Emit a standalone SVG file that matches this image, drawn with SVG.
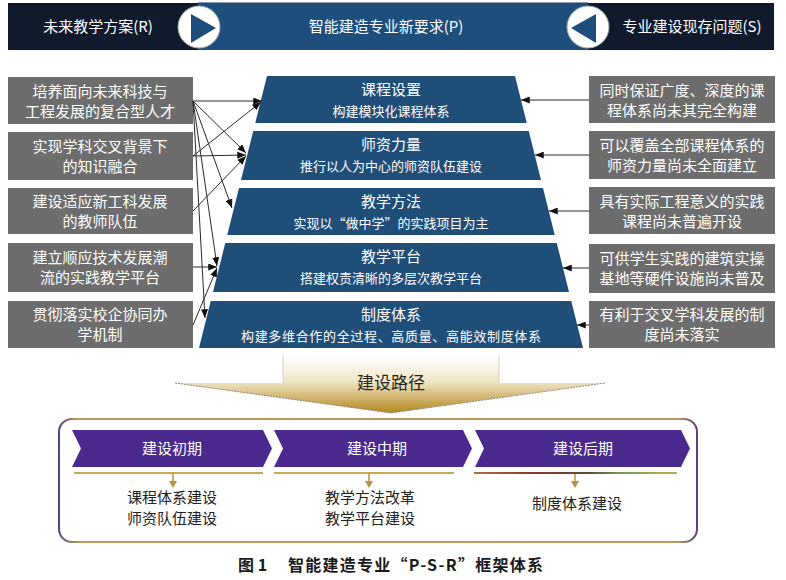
<svg xmlns="http://www.w3.org/2000/svg" width="786" height="580" viewBox="0 0 786 580">
<style>
text{font-family:"Noto Sans CJK SC","Noto Sans",sans-serif}
.hdr{fill:#fff;font-size:15px;text-anchor:middle}
.gbox{fill:#6d6d6d}
.gt{fill:#fff;font-size:15px;text-anchor:middle}
.trap{fill:#1f4e79}
.tt{fill:#fff;font-size:15px;text-anchor:middle}
.ts{fill:#fff;font-size:13px;text-anchor:middle}
.con{stroke:#2a2a2a;stroke-width:1;fill:none;marker-end:url(#ah)}
.chev{fill:#4a2a8e}
.ct{fill:#fff;font-size:15px;text-anchor:middle}
.bt{fill:#222;font-size:15px;text-anchor:middle}
</style>
<defs>
<marker id="ah" viewBox="0 0 10 8" refX="10" refY="4" markerWidth="9" markerHeight="7" markerUnits="userSpaceOnUse" orient="auto">
<path d="M0,0 L10,4 L0,8 z" fill="#111"/>
</marker>
<linearGradient id="gold" gradientUnits="userSpaceOnUse" x1="0" y1="355" x2="0" y2="413">
<stop offset="0" stop-color="#ffffff"/>
<stop offset="0.45" stop-color="#f1e7c8"/>
<stop offset="1" stop-color="#b4861c"/>
</linearGradient>
<linearGradient id="frame" gradientUnits="userSpaceOnUse" x1="59" y1="0" x2="697" y2="0">
<stop offset="0" stop-color="#5b3f86"/>
<stop offset="0.03" stop-color="#b89c55"/>
<stop offset="0.97" stop-color="#b89c55"/>
<stop offset="1" stop-color="#5b3f86"/>
</linearGradient>
<linearGradient id="l3" gradientUnits="userSpaceOnUse" x1="474" y1="0" x2="677" y2="0">
<stop offset="0" stop-color="#b07040"/>
<stop offset="0.3" stop-color="#8a3a2a"/>
<stop offset="0.55" stop-color="#5a4a3a"/>
<stop offset="0.75" stop-color="#7aa050"/>
<stop offset="1" stop-color="#c8a850"/>
</linearGradient>
</defs>

<!-- header -->
<g id="header-R">
<rect x="8" y="3" width="190" height="47" fill="#111a2c"/>
<text class="hdr" x="98" y="32">未来教学方案(R)</text>
</g>
<g id="header-P">
<rect x="198" y="2" width="390" height="48" fill="#1d4e7c"/>
<line x1="198" y1="2.5" x2="588" y2="2.5" stroke="#8a9bb0" stroke-width="1"/>
<text class="hdr" x="386" y="32">智能建造专业新要求(P)</text>
</g>
<g id="header-S">
<rect x="588" y="3" width="186" height="47" fill="#111a2c"/>
<text class="hdr" x="692" y="32">专业建设现存问题(S)</text>
</g>
<g id="play-right">
<circle cx="199" cy="27" r="21" fill="#fff" stroke="#9aa" stroke-width="1"/>
<path d="M191,14 L216,28 L191,43 z" fill="#1d4e7c"/>
</g>
<g id="play-left">
<circle cx="588" cy="27" r="21" fill="#fff" stroke="#9aa" stroke-width="1"/>
<path d="M596,14 L571,28 L596,43 z" fill="#1d4e7c"/>
</g>

<!-- left boxes -->
<g id="L1"><rect class="gbox" x="8" y="77" width="185" height="47"/>
<text class="gt" x="100" y="97">培养面向未来科技与</text><text class="gt" x="100" y="117">工程发展的复合型人才</text></g>
<g id="L2"><rect class="gbox" x="8" y="132" width="185" height="48"/>
<text class="gt" x="100" y="152">实现学科交叉背景下</text><text class="gt" x="100" y="172">的知识融合</text></g>
<g id="L3"><rect class="gbox" x="8" y="188" width="185" height="46"/>
<text class="gt" x="100" y="207">建设适应新工科发展</text><text class="gt" x="100" y="227">的教师队伍</text></g>
<g id="L4"><rect class="gbox" x="8" y="243" width="185" height="49"/>
<text class="gt" x="100" y="263">建立顺应技术发展潮</text><text class="gt" x="100" y="283">流的实践教学平台</text></g>
<g id="L5"><rect class="gbox" x="8" y="301" width="185" height="47"/>
<text class="gt" x="100" y="320">贯彻落实校企协同办</text><text class="gt" x="100" y="340">学机制</text></g>

<!-- right boxes -->
<g id="S1"><rect class="gbox" x="589" y="76" width="186" height="47"/>
<text class="gt" x="682" y="96">同时保证广度、深度的课</text><text class="gt" x="682" y="116">程体系尚未其完全构建</text></g>
<g id="S2"><rect class="gbox" x="589" y="131" width="186" height="48"/>
<text class="gt" x="682" y="151">可以覆盖全部课程体系的</text><text class="gt" x="682" y="171">师资力量尚未全面建立</text></g>
<g id="S3"><rect class="gbox" x="589" y="187" width="186" height="47"/>
<text class="gt" x="682" y="207">具有实际工程意义的实践</text><text class="gt" x="682" y="227">课程尚未普遍开设</text></g>
<g id="S4"><rect class="gbox" x="589" y="244" width="186" height="49"/>
<text class="gt" x="682" y="264">可供学生实践的建筑实操</text><text class="gt" x="682" y="284">基地等硬件设施尚未普及</text></g>
<g id="S5"><rect class="gbox" x="589" y="301" width="186" height="47"/>
<text class="gt" x="682" y="320">有利于交叉学科发展的制</text><text class="gt" x="682" y="340">度尚未落实</text></g>

<!-- center trapezoids -->
<g id="P1"><path class="trap" d="M267,76 L515,76 L526.75,123 L255.25,123 z"/>
<text class="tt" x="391" y="95">课程设置</text><text class="ts" x="391" y="116">构建模块化课程体系</text></g>
<g id="P2"><path class="trap" d="M253.25,131 L528.75,131 L541,180 L241,180 z"/>
<text class="tt" x="391" y="150">师资力量</text><text class="ts" x="391" y="171">推行以人为中心的师资队伍建设</text></g>
<g id="P3"><path class="trap" d="M239,188 L543,188 L554.75,235 L227.25,235 z"/>
<text class="tt" x="391" y="207">教学方法</text><text class="ts" x="391" y="228">实现以“做中学”的实践项目为主</text></g>
<g id="P4"><path class="trap" d="M225.25,243 L556.75,243 L569,292 L213,292 z"/>
<text class="tt" x="391" y="262">教学平台</text><text class="ts" x="391" y="283">搭建权责清晰的多层次教学平台</text></g>
<g id="P5"><path class="trap" d="M210.75,301 L571.25,301 L583,348 L199,348 z"/>
<text class="tt" x="391" y="320">制度体系</text><text class="ts" x="391" y="341" font-size="14" textLength="300">构建多维合作的全过程、高质量、高能效制度体系</text></g>

<!-- connectors -->
<g id="connectors">
<line class="con" x1="193" y1="101" x2="262" y2="101"/>
<line class="con" x1="193" y1="101" x2="246" y2="153"/>
<line class="con" x1="193" y1="101" x2="232" y2="208"/>
<line class="con" x1="193" y1="101" x2="217" y2="266"/>
<line class="con" x1="193" y1="101" x2="205" y2="318"/>
<line class="con" x1="193" y1="156" x2="261" y2="102"/>
<line class="con" x1="193" y1="156" x2="246" y2="155"/>
<line class="con" x1="193" y1="211" x2="246" y2="156"/>
<line class="con" x1="193" y1="267" x2="217" y2="267"/>
<line class="con" x1="193" y1="325" x2="217" y2="268"/>
<line class="con" x1="589" y1="100" x2="521" y2="100"/>
<line class="con" x1="589" y1="155" x2="535" y2="155"/>
<line class="con" x1="589" y1="211" x2="549" y2="211"/>
<line class="con" x1="589" y1="268" x2="563" y2="268"/>
<line class="con" x1="589" y1="325" x2="577" y2="325"/>
</g>

<!-- big down arrow -->
<g id="path-arrow">
<path d="M283,355 L499,355 L499,383 L605,383 L391,413 L175,383 L283,383 z" fill="url(#gold)"/>
<path d="M175,383 L391,413 L605,383" fill="none" stroke="#8a8a8a" stroke-width="1" stroke-dasharray="2,1"/>
<path d="M283,355 L283,383 M499,355 L499,383" stroke="#d0d0d0" stroke-width="1"/>
<text x="391" y="389" fill="#222" font-size="17" text-anchor="middle">建设路径</text>
</g>

<!-- bottom frame -->
<g id="stages-frame">
<rect x="59" y="419" width="638" height="123" rx="13" ry="13" fill="#fff" stroke="url(#frame)" stroke-width="2"/>
</g>
<g id="stage1">
<path class="chev" d="M72,430 L263,430 L272,448.5 L263,467 L72,467 L81,448.5 z"/>
<text class="ct" x="172" y="454">建设初期</text>
<line x1="74" y1="473" x2="263" y2="473" stroke="#c8a850" stroke-width="2"/>
<line x1="173" y1="474" x2="173" y2="482" stroke="#b89040" stroke-width="1.5"/>
<path d="M169,481 L177,481 L173,488 z" fill="#b89040"/>
<text class="bt" x="172" y="503">课程体系建设</text>
<text class="bt" x="172" y="524">师资队伍建设</text>
</g>
<g id="stage2">
<path class="chev" d="M274,430 L463,430 L472,448.5 L463,467 L274,467 L283,448.5 z"/>
<text class="ct" x="377" y="454">建设中期</text>
<line x1="274" y1="473" x2="454" y2="473" stroke="#c8a850" stroke-width="2"/>
<line x1="369" y1="474" x2="369" y2="482" stroke="#b89040" stroke-width="1.5"/>
<path d="M365,481 L373,481 L369,488 z" fill="#b89040"/>
<text class="bt" x="370" y="503">教学方法改革</text>
<text class="bt" x="370" y="524">教学平台建设</text>
</g>
<g id="stage3">
<path class="chev" d="M475,430 L681,430 L690,448.5 L681,467 L475,467 L484,448.5 z"/>
<text class="ct" x="583" y="454">建设后期</text>
<line x1="474" y1="473" x2="677" y2="473" stroke="url(#l3)" stroke-width="2"/>
<line x1="575" y1="474" x2="575" y2="482" stroke="#b89040" stroke-width="1.5"/>
<path d="M571,481 L579,481 L575,488 z" fill="#b89040"/>
<text class="bt" x="577" y="509">制度体系建设</text>
</g>

<!-- caption -->
<g id="caption">
<text x="238" y="571" fill="#1a1a1a" font-size="16" font-weight="bold">图 1</text>
<text x="288" y="571" fill="#1a1a1a" font-size="16" font-weight="bold" textLength="255">智能建造专业“P-S-R”框架体系</text>
</g>
</svg>
